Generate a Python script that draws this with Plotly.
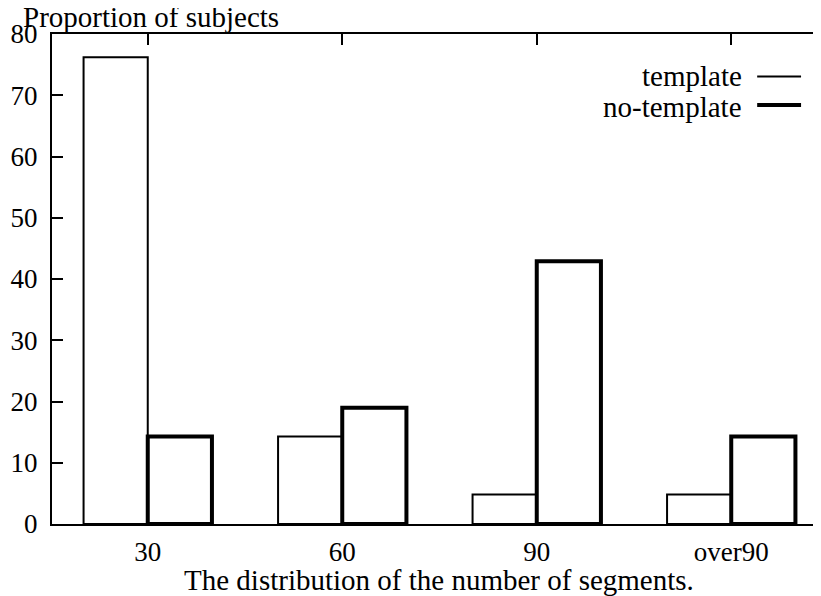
import plotly.graph_objects as go

categories = ["30", "60", "90", "over90"]
template = [76.2, 14.3, 4.8, 4.8]
no_template = [14.3, 19.0, 42.9, 14.3]
y_ticks = [0, 10, 20, 30, 40, 50, 60, 70, 80]

FONT = "Liberation Serif"
FS_TICK = 27
FS_TEXT = 29
W, H = 821, 596
# page body has an 8px margin: figure coordinates = screen coordinates - 8
L, T = 44, 26
R = W - 819
B = H - 516

pos = list(range(len(categories)))

fig = go.Figure()
fig.add_trace(go.Bar(x=pos, y=template, width=0.33, offset=-0.33,
                     marker=dict(color="white", line=dict(color="black", width=2)),
                     name="template", showlegend=False))
fig.add_trace(go.Bar(x=pos, y=no_template, width=0.33, offset=0.0,
                     marker=dict(color="white", line=dict(color="black", width=4)),
                     name="no-template", showlegend=False))

pw = W - L - R
ph = H - T - B

def px(x):
    return (x - 8 - L) / pw

def py(y):
    return (H - B - (y - 8)) / ph

tf = dict(family=FONT, size=FS_TEXT, color="black")
annotations = [
    dict(text="Proportion of subjects", x=px(21), y=py(17.5), xref="paper", yref="paper",
         xanchor="left", yanchor="middle", showarrow=False, font=tf),
    dict(text="The distribution of the number of segments.", x=px(440), y=py(580), xref="paper", yref="paper",
         xanchor="center", yanchor="middle", showarrow=False, font=tf),
    dict(text="template", x=px(746), y=py(76), xref="paper", yref="paper",
         xanchor="right", yanchor="middle", showarrow=False, font=tf),
    dict(text="no-template", x=px(746), y=py(107), xref="paper", yref="paper",
         xanchor="right", yanchor="middle", showarrow=False, font=tf),
]
shapes = [
    dict(type="line", xref="paper", yref="paper", x0=px(759), x1=px(803), y0=py(76.5), y1=py(76.5),
         line=dict(color="black", width=2)),
    dict(type="line", xref="paper", yref="paper", x0=px(759), x1=px(803), y0=py(105), y1=py(105),
         line=dict(color="black", width=4)),
]

fig.update_layout(
    width=W, height=H,
    margin=dict(l=L, r=R, t=T, b=B),
    paper_bgcolor="white", plot_bgcolor="white",
    font=dict(family=FONT, size=FS_TICK, color="black"),
    barmode="overlay",
    xaxis=dict(range=[-(140 - L) / 195, (819 - 140) / 195], tickvals=pos, ticktext=categories,
               showline=True, linecolor="black", linewidth=2, mirror="ticks",
               ticks="inside", ticklen=11, tickwidth=2, tickcolor="black",
               showgrid=False, zeroline=False, ticklabelstandoff=3),
    yaxis=dict(range=[0, 80], tickvals=y_ticks, showline=True, linecolor="black", linewidth=2,
               mirror="ticks", ticks="inside", ticklen=11, tickwidth=2, tickcolor="black",
               showgrid=False, zeroline=False, ticklabelstandoff=7),
    annotations=annotations,
    shapes=shapes,
)

fig.write_html("out.html")
